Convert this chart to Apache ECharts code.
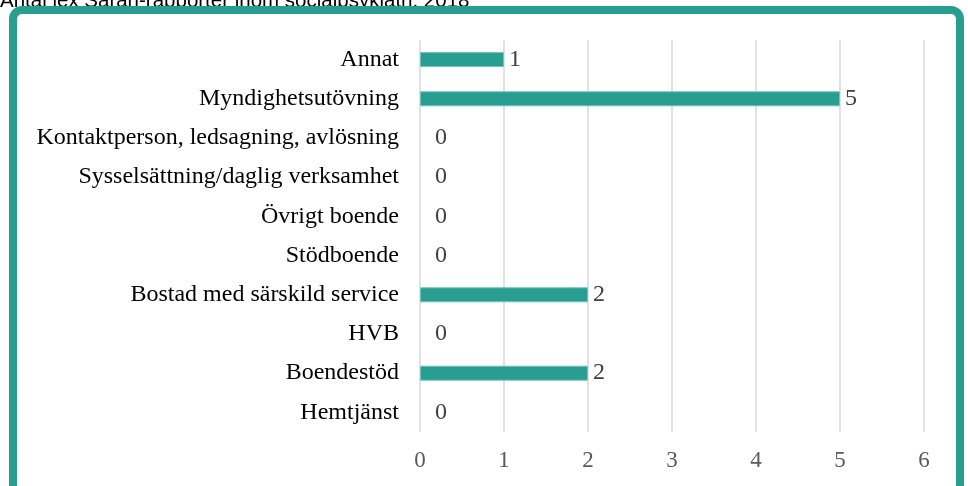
<!DOCTYPE html>
<html lang="sv">
<head>
    <meta charset="UTF-8">
    <title>Lex Sarah</title>
    <script src="https://cdn.jsdelivr.net/npm/echarts@6/dist/echarts.min.js"></script>
    <style>
        html, body { margin: 0; padding: 0; background: #fff; }
        #main { width: 968px; height: 486px; }
    </style>
</head>
<body>
    <div id="main"></div>
<script>
    // kategorier, uppifrån och ned
    var categories = ['Annat', 'Myndighetsutövning', 'Kontaktperson, ledsagning, avlösning',
        'Sysselsättning/daglig verksamhet', 'Övrigt boende', 'Stödboende',
        'Bostad med särskild service', 'HVB', 'Boendestöd', 'Hemtjänst'];
    var values = [1, 5, 0, 0, 0, 0, 2, 0, 2, 0];
    var titleText = 'Antal lex Sarah-rapporter inom socialpsykiatri, 2018';

    var teal = '#279e91';
    var serif = '"Liberation Serif", "Times New Roman", serif';

    var myChart = echarts.init(document.getElementById('main'));

    // nollor hamnar lite längre från axeln, och utan kantlinje
    var barData = values.map(function (v) {
        return {
            value: v,
            itemStyle: { borderWidth: v === 0 ? 0 : 1 },
            label: { distance: v === 0 ? 15 : 5 }
        };
    });

    var option = {
        animation: false,
        grid: { left: 420, right: 44, top: 40, bottom: 54 },
        xAxis: {
            type: 'value',
            min: 0,
            max: 6,
            interval: 1,
            axisLine: { show: false },
            axisTick: { show: false },
            splitLine: { lineStyle: { color: '#d9d9d9', width: 1.5 } },
            axisLabel: { color: '#595959', fontFamily: serif, fontSize: 23, margin: 17 }
        },
        yAxis: {
            type: 'category',
            inverse: true,
            data: categories,
            axisLine: { show: false },
            axisTick: { show: false },
            axisLabel: { color: '#000', fontFamily: serif, fontSize: 24, margin: 21 }
        },
        series: [{
            type: 'bar',
            data: barData,
            barWidth: 15,
            itemStyle: { color: teal, borderColor: '#72c4ba' },
            label: {
                show: true,
                position: 'right',
                color: '#404040',
                fontFamily: serif,
                fontSize: 24
            }
        }],
        graphic: [
            {
                type: 'text',
                left: 0,
                top: -9,
                style: {
                    text: titleText,
                    font: '20.5px "Liberation Sans", Arial, sans-serif',
                    fill: '#000'
                },
                z: 1
            },
            {
                type: 'rect',
                shape: { x: 13, y: 10, width: 947, height: 520, r: 9 },
                style: { fill: 'none', stroke: teal, lineWidth: 8 },
                z: 2
            }
        ]
    };

    myChart.setOption(option);
</script>
</body>
</html>
